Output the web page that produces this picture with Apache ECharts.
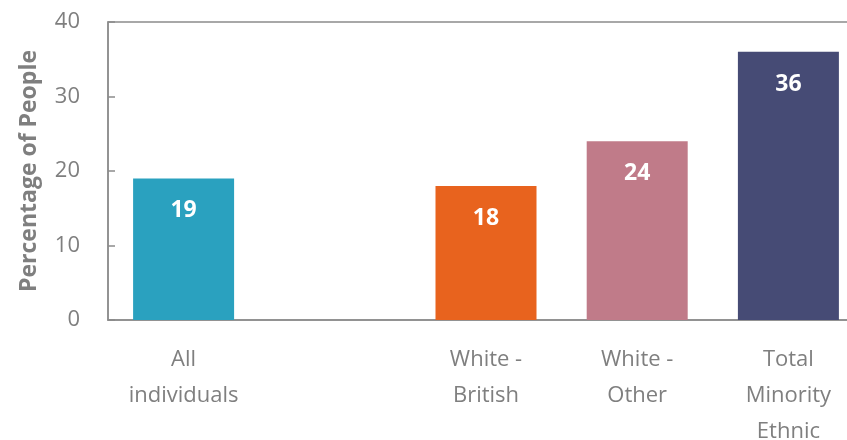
<!DOCTYPE html>
<html><head><meta charset="utf-8">
<script src="https://cdn.jsdelivr.net/npm/echarts@6/dist/echarts.min.js"></script>
<style>html,body{margin:0;padding:0;background:#fff}#c{width:847px;height:440px}</style>
</head><body><div id="c"></div>
<script>
var categories = ["All\nindividuals", "", "White -\nBritish", "White -\nOther", "Total\nMinority\nEthnic"];
var values = [19, null, 18, 24, 36];
var colors = ["#2AA1BF", "#ffffff", "#E8631E", "#C07B89", "#464B75"];
var yTicks = [0, 10, 20, 30, 40];

var chart = echarts.init(document.getElementById('c'));
var font = '"Open Sans", sans-serif';
chart.setOption({
  animation: false,
  grid: { left: 108, top: 22, right: -17, bottom: 120, containLabel: false, outerBoundsMode: 'none', show: true, borderColor: '#8c8c8c', borderWidth: 1.5, backgroundColor: 'transparent' },
  xAxis: {
    type: 'category', data: categories,
    axisLine: { lineStyle: { color: '#8c8c8c', width: 1.5 } },
    axisTick: { show: false },
    axisLabel: { color: '#7f7f7f', fontSize: 22, fontFamily: font, lineHeight: 36, margin: 22, interval: 0 }
  },
  yAxis: {
    type: 'value', min: yTicks[0], max: yTicks[yTicks.length - 1], interval: 10,
    name: 'Percentage of People', nameLocation: 'middle', nameGap: 67, nameRotate: 90,
    nameTextStyle: { color: '#7f7f7f', fontSize: 23, fontWeight: 'bold', fontFamily: font },
    axisLine: { show: true, lineStyle: { color: '#8c8c8c', width: 1.5 } },
    axisTick: { show: true, inside: true, length: 7, lineStyle: { color: '#8c8c8c', width: 1.5 } },
    splitLine: { show: false },
    axisLabel: { color: '#7f7f7f', fontSize: 22, fontFamily: font, margin: 28 }
  },
  series: [{
    type: 'bar', barWidth: 101,
    data: values.map(function (v, i) { return { value: v, itemStyle: { color: colors[i] } }; }),
    label: { show: true, position: 'insideTop', distance: 21, color: '#fff', fontSize: 23, fontWeight: 'bold', fontFamily: font }
  }]
});
</script></body></html>
